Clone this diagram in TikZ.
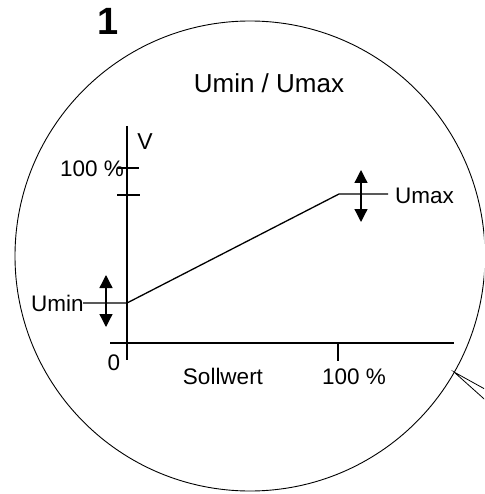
\documentclass[tikz,border=0pt]{standalone}
\usepackage{fontspec}
\setmainfont{Liberation Sans}
\usetikzlibrary{arrows.meta}
\begin{document}
\begin{tikzpicture}[x=1pt,y=-1pt,
  lbl/.style={inner sep=0pt,anchor=base,font=\fontsize{22.5}{26}\selectfont},
  ax/.style={line width=1.3pt},
  adj/.style={line width=1.3pt,{Triangle[width=13pt,length=13pt]}-{Triangle[width=13pt,length=13pt]}}]
\useasboundingbox (0,0) rectangle (484,494);
\clip (0,0) rectangle (484,494);
% circle
\coordinate (c) at (250,256);
\draw[line width=0.9pt] (c) circle[radius=235];
% pointer leader
\coordinate (p0) at (454,372);
\coordinate (p1) at (492,393);
\coordinate (p2) at (492,406);
\draw[line width=0.8pt] (p1) -- (p0) -- (p2);
% texts
\node[lbl,font=\fontsize{38}{40}\bfseries\selectfont] (num) at (108.5,35) {1};
\node[lbl,font=\fontsize{26}{30}\selectfont] (title) at (269,93) {Umin / Umax};
\node[lbl,font=\fontsize{23}{26}\selectfont] (v) at (145,150) {V};
\node[lbl] (p100v) at (92,177) {100 \%};
\node[lbl] (umin) at (57.5,311) {Umin};
\node[lbl] (umax) at (424.5,204) {Umax};
\node[lbl] (zero) at (114,370) {0};
\node[lbl] (soll) at (223,384) {Sollwert};
\node[lbl] (p100h) at (354,384) {100 \%};
% axes
\coordinate (vt) at (127,126);
\coordinate (vb) at (127,360);
\draw[ax] (vt) -- (vb);
\coordinate (hl) at (110,343);
\coordinate (hr) at (454,343);
\draw[ax] (hl) -- (hr);
\coordinate (t1a) at (117,168); \coordinate (t1b) at (139,168);
\draw[ax] (t1a) -- (t1b);
\coordinate (t2a) at (117,195); \coordinate (t2b) at (140,195);
\draw[ax] (t2a) -- (t2b);
\coordinate (t3a) at (338,343); \coordinate (t3b) at (338,361);
\draw[ax] (t3a) -- (t3b);
% characteristic
\coordinate (k0) at (83,303);
\coordinate (k1) at (127,303);
\coordinate (k2) at (339,194);
\coordinate (k3) at (388,194);
\draw[ax] (k0) -- (k1) -- (k2) -- (k3);
% adjust arrows
\coordinate (a1t) at (361,170); \coordinate (a1b) at (361,222);
\draw[adj] (a1t) -- (a1b);
\coordinate (a2t) at (106,275); \coordinate (a2b) at (106,327);
\draw[adj] (a2t) -- (a2b);
\end{tikzpicture}
\end{document}
